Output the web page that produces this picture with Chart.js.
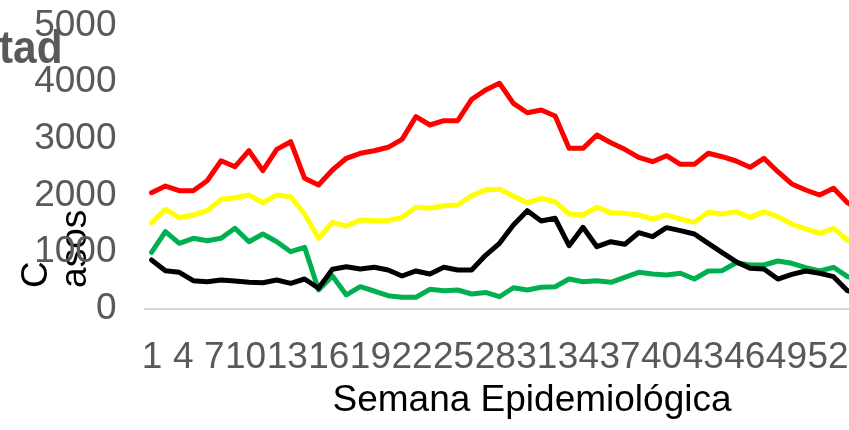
<!DOCTYPE html>
<html>
<head>
<meta charset="utf-8">
<script src="https://cdn.jsdelivr.net/npm/chart.js@4/dist/chart.umd.min.js"></script>
<style>
html,body{margin:0;padding:0;background:#fff;overflow:hidden;width:849px;height:430px;}
#wrap{position:relative;width:849px;height:430px;overflow:hidden;}
#c{position:absolute;left:0;top:0;}
#frag{position:absolute;left:-1px;top:24px;font:bold 46px/46px "Liberation Sans",Arial,sans-serif;color:#595959;white-space:nowrap;transform:scaleX(0.92);transform-origin:0 0;}
</style>
</head>
<body>
<div id="wrap">
  <canvas id="c" width="930" height="430"></canvas>
  <div id="frag">tad</div>
</div>
<script>
// ---- data ----
const weeks = Array.from({length: 52}, (_, i) => i + 1);
const tickLabels = ['1','4','7','10','13','16','19','22','25','28','31','34','37','40','43','46','49','52'];
const yTicks = [0, 1000, 2000, 3000, 4000, 5000];

const alarma = [2046,2164,2081,2081,2258,2611,2505,2788,2435,2812,2947,2300,2182,2447,2654,2742,2788,2848,2989,3389,3242,3318,3318,3696,3860,
                3979,3625,3459,3507,3401,2830,2830,3065,2929,2812,2671,2594,2700,2547,2547,2742,2682,2606,2494,2654,2417,2200,2094,2005,2124,1870,1720];
const seguridad = [1516,1753,1604,1652,1728,1929,1958,2005,1869,2005,1975,1670,1240,1523,1458,1564,1552,1552,1611,1788,1770,1816,1829,1993,2094,
                   2106,1988,1869,1947,1887,1670,1652,1788,1693,1682,1652,1581,1652,1581,1523,1700,1670,1711,1611,1711,1622,1493,1405,1329,1417,1210,1100];
const exito = [993,1357,1152,1240,1198,1240,1417,1180,1316,1180,1004,1081,327,574,239,385,309,226,198,198,339,315,327,256,283,
               208,367,327,375,385,521,474,491,463,551,640,610,592,622,521,663,668,809,769,769,839,799,721,663,728,562,500];
const casos = [857,668,640,491,474,504,486,463,456,504,445,521,357,693,739,698,728,680,574,663,610,728,680,680,940,
               1152,1475,1728,1546,1594,1110,1435,1092,1180,1134,1339,1269,1428,1375,1316,1152,986,827,710,698,521,604,663,622,562,315,250];

const yTitle = ['  C', '  asos'];
const xTitle = 'Semana Epidemiológica';

// label centres measured in digit-widths, as the labels run together as text
function labelCenters(labels) {
  const out = []; let pos = 0;
  labels.forEach((l, i) => {
    out.push(pos + l.length / 2);
    pos += l.length;
    const n = labels[i + 1];
    if (n && l.length === 1 && n.length === 1) pos += 0.5;
  });
  return out;
}
const centers = labelCenters(tickLabels);

const toPts = arr => weeks.map((w, i) => ({x: w, y: arr[i]}));

Chart.defaults.font.family = "'Liberation Sans', Arial, sans-serif";

function ds(label, data, color, order) {
  return {label, data: toPts(data), borderColor: color, backgroundColor: color, borderWidth: 5,
          pointRadius: 0, pointHoverRadius: 0, tension: 0, fill: false, order,
          borderJoinStyle: 'round', borderCapStyle: 'round', xAxisID: 'x', yAxisID: 'y'};
}

new Chart(document.getElementById('c'), {
  type: 'line',
  data: {
    datasets: [
      ds('Casos', casos, '#000000', 0),
      ds('Éxito', exito, '#00B050', 1),
      ds('Seguridad', seguridad, '#FFFF00', 2),
      ds('Alarma', alarma, '#FF0000', 3)
    ]
  },
  options: {
    responsive: false,
    animation: false,
    devicePixelRatio: 1,
    layout: {padding: {top: 25.5, bottom: 6.7, left: 0, right: 11}},
    plugins: {legend: {display: false}, tooltip: {enabled: false}, title: {display: false}},
    scales: {
      x: {type: 'linear', display: false, min: 0.533, max: 56.14},
      x2: {
        type: 'linear', position: 'bottom', min: 0.163, max: 37.375,
        grid: {display: false, drawTicks: false},
        border: {display: true, color: '#d9d9d9', width: 2},
        afterBuildTicks: s => { s.ticks = centers.map(v => ({value: v})); },
        afterFit: s => { s.height = 114.8; s.paddingLeft = 0; s.paddingRight = 0; },
        ticks: {autoSkip: false, maxRotation: 0, minRotation: 0, padding: 27, color: '#595959',
                font: {size: 37, lineHeight: 1.2},
                callback: (v, i) => tickLabels[i]},
        title: {display: true, text: xTitle, color: '#000000', font: {size: 37, lineHeight: 1.2}, padding: {top: 0, bottom: 0}}
      },
      y: {
        type: 'linear', position: 'left', min: 0, max: 5000,
        afterBuildTicks: s => { s.ticks = yTicks.map(v => ({value: v})); },
        afterFit: s => { s.width = 145; s.paddingTop = 0; s.paddingBottom = 0; },
        grid: {display: false, drawTicks: false},
        border: {display: false},
        ticks: {autoSkip: false, padding: 28.5, color: '#595959', font: {size: 37, lineHeight: 1.2},
                callback: v => String(v)},
        title: {display: true, text: yTitle, align: 'start', color: '#000000',
                font: {size: 37, lineHeight: 1.04}, padding: {top: 18, bottom: 0}}
      }
    }
  }
});
</script>
</body>
</html>
